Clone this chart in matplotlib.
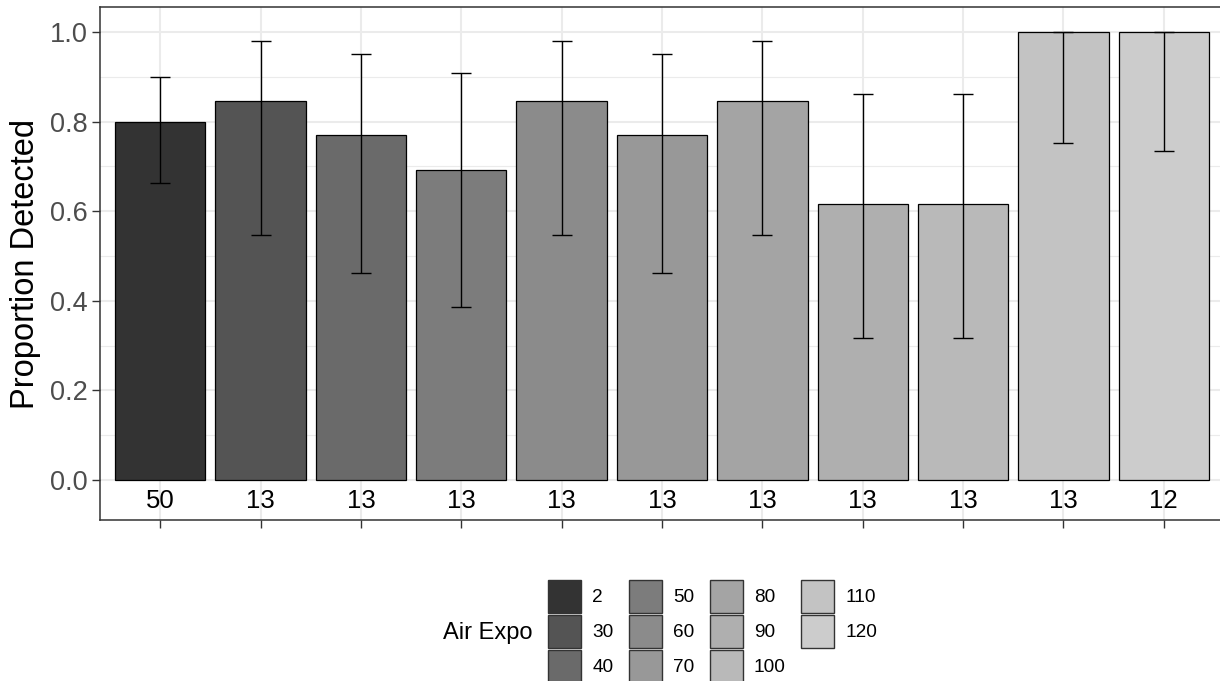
import matplotlib
matplotlib.use("Agg")
import matplotlib.pyplot as plt
from matplotlib.patches import Patch

plt.rcParams['font.family'] = ['Liberation Sans', 'DejaVu Sans']

# detection by air exposure group
air_expo = ['2', '30', '40', '50', '60', '70', '80', '90', '100', '110', '120']
n_trials = [50, 13, 13, 13, 13, 13, 13, 13, 13, 13, 12]
prop_detected = [0.800, 0.846, 0.769, 0.692, 0.846, 0.769, 0.846, 0.615, 0.615, 1.000, 1.000]
ci_low = [0.663, 0.546, 0.462, 0.386, 0.546, 0.462, 0.546, 0.316, 0.316, 0.753, 0.735]
ci_high = [0.900, 0.981, 0.950, 0.909, 0.981, 0.950, 0.981, 0.861, 0.861, 1.000, 1.000]

fills = ['#333333', '#545454', '#6A6A6A', '#7C7C7C', '#8B8B8B', '#989898',
         '#A4A4A4', '#AFAFAF', '#B9B9B9', '#C3C3C3', '#CCCCCC']

W, H = 1220, 681
fig = plt.figure(figsize=(W / 100, H / 100), dpi=100)
ax = fig.add_axes([100 / W, 1 - 520 / H, 1124 / W, 513 / H])

x = list(range(1, len(air_expo) + 1))
ax.bar(x, prop_detected, width=0.9, color=fills, edgecolor='black', linewidth=0.9, zorder=3)
yerr = [[p - lo for p, lo in zip(prop_detected, ci_low)],
        [hi - p for p, hi in zip(prop_detected, ci_high)]]
ax.errorbar(x, prop_detected, yerr=yerr, fmt='none', ecolor='black',
            elinewidth=1.0, capsize=7.5, capthick=1.0, zorder=4)

for xi, n in zip(x, n_trials):
    ax.text(xi, -0.047, str(n), ha='center', va='center', fontsize=18.5, color='black')

ax.set_xlim(0.4, 11.6)
ax.set_ylim(-0.0893, 1.0558)
ax.set_xticks(x)
ax.set_xticklabels([])
ax.set_yticks([0, 0.2, 0.4, 0.6, 0.8, 1.0])
ax.set_yticklabels(['0.0', '0.2', '0.4', '0.6', '0.8', '1.0'])
ax.set_yticks([0.1, 0.3, 0.5, 0.7, 0.9], minor=True)
ax.tick_params(axis='y', which='minor', length=0)
ax.tick_params(axis='both', which='major', length=6, width=1.0, color='#333333',
               labelsize=19.5, labelcolor='#4D4D4D', pad=3)

ax.grid(True, which='major', color='#EBEBEB', linewidth=1.5, zorder=0)
ax.grid(True, which='minor', axis='y', color='#EBEBEB', linewidth=0.8, zorder=0)
ax.set_axisbelow(True)
for s in ax.spines.values():
    s.set_color('#333333')
    s.set_linewidth(1.1)

ax.set_ylabel('Proportion Detected', fontsize=23.5, color='black', labelpad=6)

handles = [Patch(facecolor=c, edgecolor='#333333', linewidth=1.0) for c in fills]
fig.legend(handles, air_expo, ncol=4, loc='upper left',
           bbox_to_anchor=(548 / W, 1 - 580 / H), frameon=False, borderpad=0,
           fontsize=13.7, handlelength=1.73, handleheight=2.3, labelspacing=0.1,
           handletextpad=0.6, columnspacing=0.8, borderaxespad=0)
fig.text(443 / W, 1 - 633 / H, 'Air Expo', ha='left', va='center', fontsize=17)

fig.savefig('out.png', dpi=100)
